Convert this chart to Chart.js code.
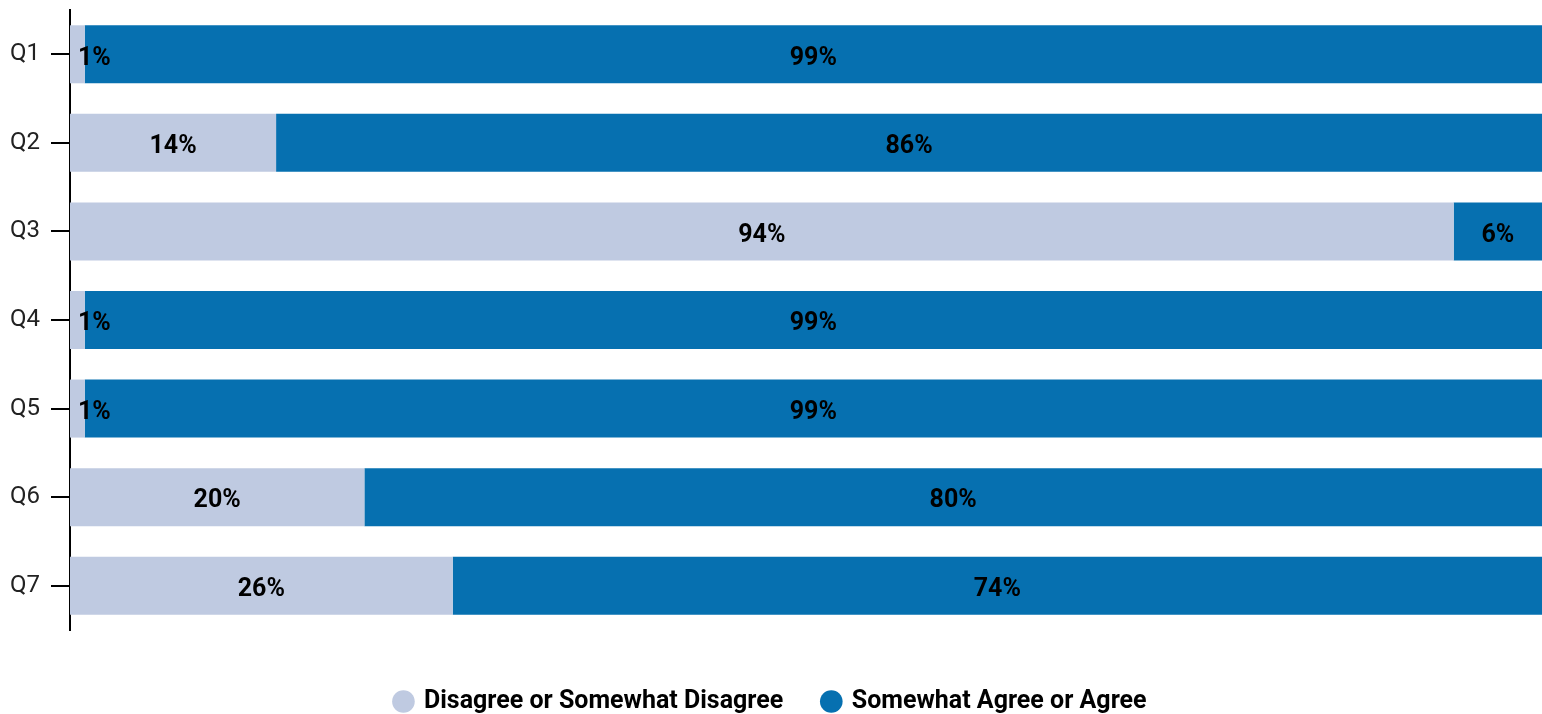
<!DOCTYPE html>
<html>
<head>
<meta charset="utf-8">
<script src="https://cdn.jsdelivr.net/npm/chart.js@4"></script>
<style>
  html, body { margin: 0; padding: 0; background: #fff; overflow: hidden; }
  #wrap { width: 1542px; height: 724px; }
</style>
</head>
<body>
<div id="wrap"><canvas id="surveyChart"></canvas></div>
<script>
// dados do gráfico
const questions = ['Q1', 'Q2', 'Q3', 'Q4', 'Q5', 'Q6', 'Q7'];
const disagree = [1, 14, 94, 1, 1, 20, 26];
const agree = [99, 86, 6, 99, 99, 80, 74];
const seriesNames = ['Disagree or Somewhat Disagree', 'Somewhat Agree or Agree'];
const seriesColors = ['#BFCAE1', '#0670B0'];

// rótulos no centro de cada segmento
const segmentLabels = {
    id: 'segmentLabels',
    afterDatasetsDraw(chart) {
        const ctx = chart.ctx;
        const area = chart.chartArea;
        ctx.save();
        ctx.font = 'bold 25px Roboto, sans-serif';
        ctx.fillStyle = '#000';
        ctx.textAlign = 'center';
        ctx.textBaseline = 'middle';
        chart.data.datasets.forEach((ds, i) => {
            const meta = chart.getDatasetMeta(i);
            meta.data.forEach((bar, j) => {
                const text = ds.data[j] + '%';
                const w = ctx.measureText(text).width;
                let cx = (bar.x + bar.base) / 2;
                cx = Math.max(cx, area.left + 8 + w / 2);
                ctx.fillText(text, cx, bar.y + 4);
            });
        });
        ctx.restore();
    }
};

new Chart(document.getElementById('surveyChart'), {
    type: 'bar',
    data: {
        labels: questions,
        datasets: [
            { label: seriesNames[0], data: disagree, backgroundColor: seriesColors[0] },
            { label: seriesNames[1], data: agree, backgroundColor: seriesColors[1] }
        ]
    },
    options: {
        indexAxis: 'y',
        responsive: true,
        maintainAspectRatio: false,
        animation: false,
        categoryPercentage: 1,
        barPercentage: 0.655,
        layout: { padding: { top: 10, right: 0, left: 0, bottom: 0 } },
        scales: {
            x: {
                stacked: true,
                min: 0,
                max: 100,
                ticks: { display: false },
                grid: { display: false },
                border: { display: false },
                afterFit: scale => { scale.height = 19; }
            },
            y: {
                stacked: true,
                grid: { drawOnChartArea: false, offset: false, tickLength: 19, color: '#000', lineWidth: 2 },
                border: { color: '#000', width: 2 },
                ticks: {
                    padding: 11,
                    color: '#222',
                    font: { family: 'Roboto', size: 24 }
                },
                afterFit: scale => {
                    scale.width = 70;
                    scale.paddingTop = 0;
                    scale.paddingBottom = 0;
                }
            }
        },
        plugins: {
            tooltip: { enabled: false },
            legend: {
                position: 'bottom',
                labels: {
                    usePointStyle: true,
                    pointStyle: 'circle',
                    boxWidth: 16,
                    boxHeight: 16,
                    padding: 40,
                    color: '#000',
                    font: { family: 'Roboto', size: 25, weight: 'bold' }
                }
            }
        }
    },
    plugins: [segmentLabels]
});
</script>
</body>
</html>
